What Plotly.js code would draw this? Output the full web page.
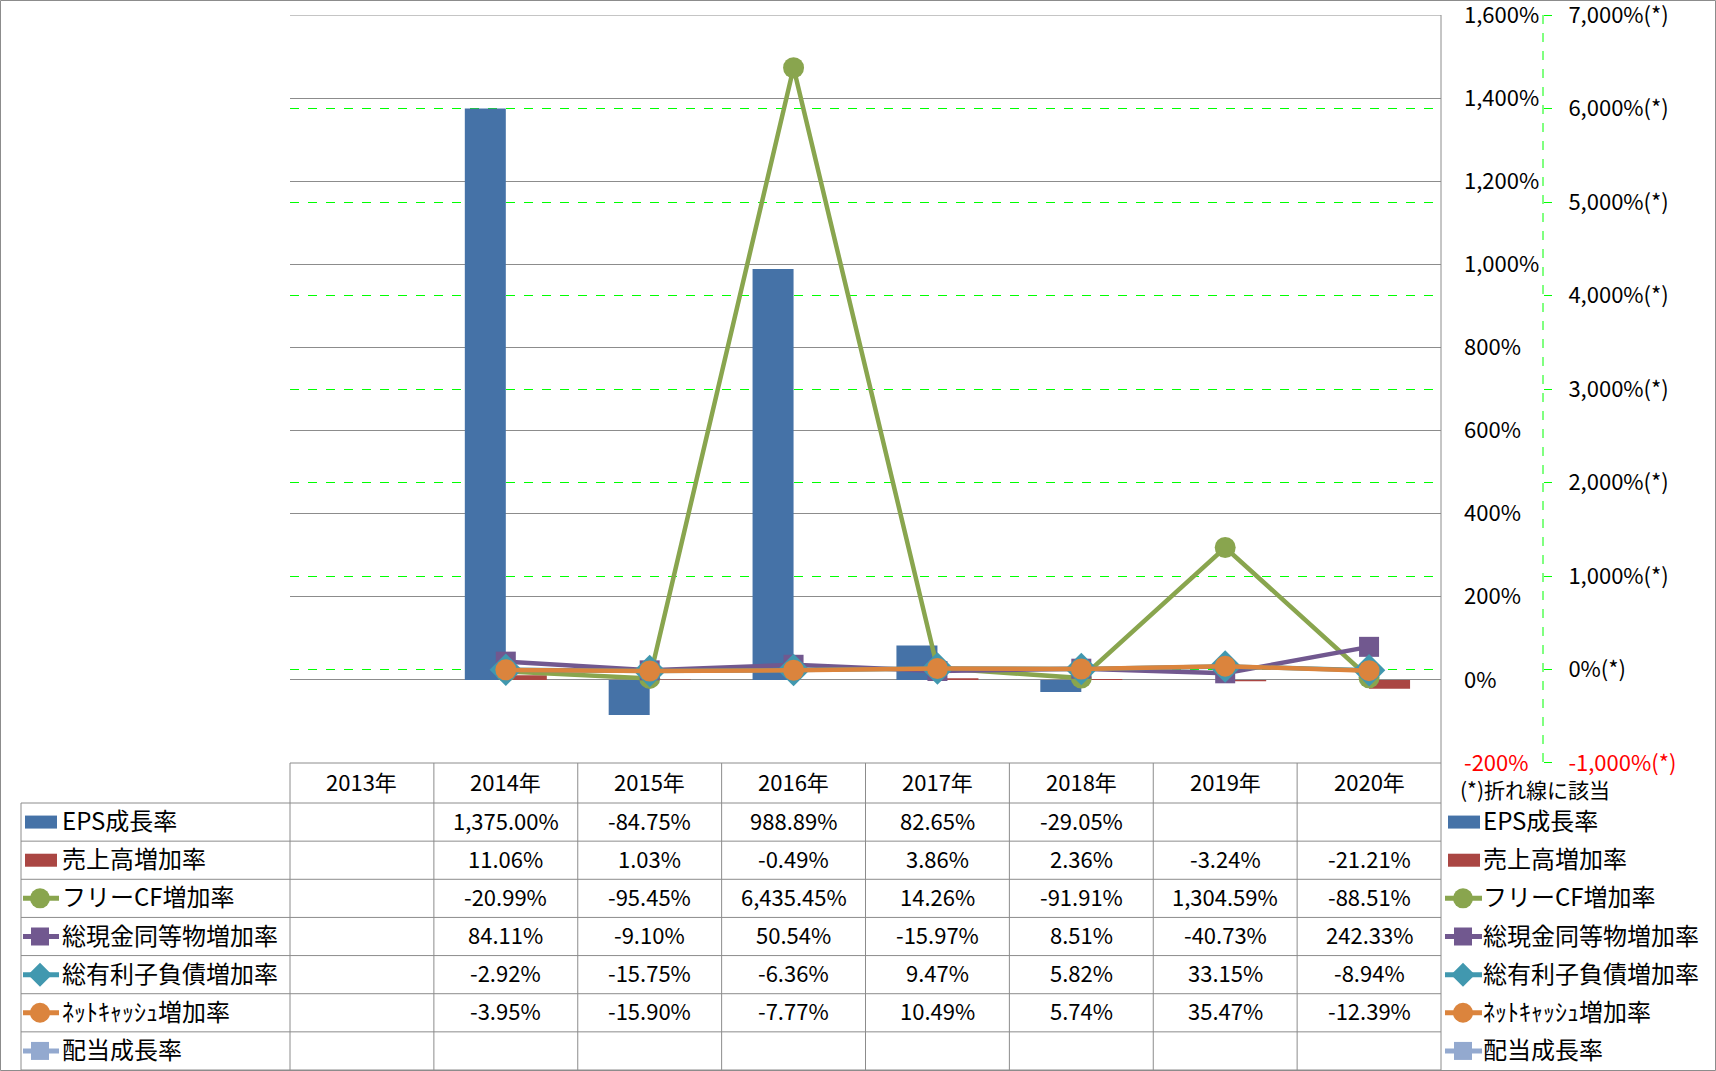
<!DOCTYPE html>
<html>
<head>
<meta charset="utf-8">
<script src="https://cdn.plot.ly/plotly-3.0.1.min.js"></script>
<style>
html,body{margin:0;padding:0;background:#fff;}
#chart{width:1716px;height:1071px;}
</style>
</head>
<body>
<div id="chart"></div>
<script>
// ---- data ----
const years = ['2013年','2014年','2015年','2016年','2017年','2018年','2019年','2020年'];
const epsGrowth      = [null, 1375.00, -84.75, 988.89, 82.65, -29.05, null, null];
const salesGrowth    = [null, 11.06, 1.03, -0.49, 3.86, 2.36, -3.24, -21.21];
const fcfGrowth      = [null, -20.99, -95.45, 6435.45, 14.26, -91.91, 1304.59, -88.51];
const cashGrowth     = [null, 84.11, -9.10, 50.54, -15.97, 8.51, -40.73, 242.33];
const debtGrowth     = [null, -2.92, -15.75, -6.36, 9.47, 5.82, 33.15, -8.94];
const netCashGrowth  = [null, -3.95, -15.90, -7.77, 10.49, 5.74, 35.47, -12.39];
const dividendGrowth = [null, null, null, null, null, null, null, null];

const seriesNames = ['EPS成長率','売上高増加率','フリーCF増加率','総現金同等物増加率','総有利子負債増加率','ﾈｯﾄｷｬｯｼｭ増加率','配当成長率'];
const leftTicks  = [-200, 0, 200, 400, 600, 800, 1000, 1200, 1400, 1600];
const rightTicks = [-1000, 0, 1000, 2000, 3000, 4000, 5000, 6000, 7000];
const noteText = '(*)折れ線に該当';

// ---- styles ----
const colors = ['#4572A7','#AA4643','#89A54E','#71588F','#4198AF','#DB843D','#93A9CF'];
const FONT = '"Noto Sans CJK JP", "Noto Sans", sans-serif';
const W = 1716, H = 1071;
const L = 290, R = 1441, T = 15, B = 763;
const AX2 = 1543;
const px = x => x / W;
const py = y => 1 - y / H;
const EPS1 = 0.02, EPS2 = 0.1;

function fmtNum(v){
  return v.toLocaleString('en-US',{minimumFractionDigits:2, maximumFractionDigits:2}) + '%';
}
function fmtTick(v, suffix){
  const s = v.toLocaleString('en-US') + suffix;
  return v < 0 ? '<span style="color:#FF0000">' + s + '</span>' : s;
}

const lineSeries = [fcfGrowth, cashGrowth, debtGrowth, netCashGrowth, dividendGrowth];
const lineSymbols = ['circle','square','diamond','circle','square'];
const lineSizes = [21, 20, 25, 21, 20];

const traces = [
  {type:'bar', x:years, y:epsGrowth, name:seriesNames[0], marker:{color:colors[0]}, yaxis:'y'},
  {type:'bar', x:years, y:salesGrowth, name:seriesNames[1], marker:{color:colors[1]}, yaxis:'y'}
];
lineSeries.forEach((d,i)=>{
  traces.push({type:'scatter', mode:'lines+markers', x:years, y:d, name:seriesNames[i+2], yaxis:'y2',
    line:{color:colors[i+2], width:4.5},
    marker:{symbol:lineSymbols[i], size:lineSizes[i], color:colors[i+2], line:{width:0}}});
});

const gray = '#8C8C8C';
const shapes = [];
const annotations = [];
function hline(y,x0,x1){shapes.push({type:'line',xref:'paper',yref:'paper',x0:px(x0),x1:px(x1),y0:py(y),y1:py(y),line:{color:gray,width:1}});}
function vline(x,y0,y1){shapes.push({type:'line',xref:'paper',yref:'paper',x0:px(x),x1:px(x),y0:py(y0),y1:py(y1),line:{color:gray,width:1}});}

// outer border
shapes.push({type:'rect',xref:'paper',yref:'paper',x0:px(0.5),x1:px(W-0.5),y0:py(0.5),y1:py(H-0.5),line:{color:gray,width:1}});
// secondary axis dashed line
shapes.push({type:'line',xref:'paper',yref:'paper',x0:px(AX2),x1:px(AX2),y0:py(T),y1:py(B),line:{color:'#00FF00',width:1,dash:'dash'}});
// top gridline of the plot area (value-axis maximum)
shapes.push({type:'line',xref:'x domain',yref:'y',x0:0,x1:1,y0:leftTicks[leftTicks.length-1],y1:leftTicks[leftTicks.length-1],line:{color:gray,width:1}});

// table
const colW = (R - L) / years.length;
const headTop = 763, headBot = 803, tableBot = 1070;
const rowH = (tableBot - headBot) / seriesNames.length;
const LEG_L = 21;
const TXT_UP = 2.5;
hline(headTop, L, R);
hline(headBot, LEG_L, R);
for(let r=1;r<=seriesNames.length;r++) hline(headBot + r*rowH, LEG_L, R);
vline(LEG_L, headBot, tableBot);
for(let c=0;c<years.length;c++) vline(L + c*colW, headTop, tableBot);
vline(R, T, tableBot);

const tf = {family:FONT, size:22, color:'#000'};
years.forEach((yv,c)=>{
  annotations.push({xref:'paper',yref:'paper',x:px(L+(c+0.5)*colW),y:py((headTop+headBot)/2 - TXT_UP),text:yv,showarrow:false,xanchor:'center',yanchor:'middle',font:tf});
});
const tableData = [epsGrowth, salesGrowth, fcfGrowth, cashGrowth, debtGrowth, netCashGrowth, dividendGrowth];
tableData.forEach((arr,r)=>{
  const cy = headBot + (r+0.5)*rowH - TXT_UP;
  arr.forEach((v,c)=>{
    if(v===null) return;
    annotations.push({xref:'paper',yref:'paper',x:px(L+(c+0.5)*colW),y:py(cy),text:fmtNum(v),showarrow:false,xanchor:'center',yanchor:'middle',font:tf});
  });
});

// legend (left and right)
const lf = {family:FONT, size:24, color:'#000'};
function legendSymbol(i, cx, rectX0, rectX1, lineX0, lineX1, cy){
  if(i<2){
    shapes.push({type:'rect',xref:'paper',yref:'paper',x0:px(rectX0),x1:px(rectX1),y0:py(cy-6.5),y1:py(cy+6.5),fillcolor:colors[i],line:{width:0}});
  } else {
    shapes.push({type:'line',xref:'paper',yref:'paper',x0:px(lineX0),x1:px(lineX1),y0:py(cy),y1:py(cy),line:{color:colors[i],width:5}});
    const sym = lineSymbols[i-2];
    if(sym==='circle'){
      shapes.push({type:'circle',xref:'paper',yref:'paper',x0:px(cx-10),x1:px(cx+10),y0:py(cy-10),y1:py(cy+10),fillcolor:colors[i],line:{width:0}});
    } else if(sym==='square'){
      shapes.push({type:'rect',xref:'paper',yref:'paper',x0:px(cx-9),x1:px(cx+9),y0:py(cy-9),y1:py(cy+9),fillcolor:colors[i],line:{width:0}});
    } else {
      const pts = [[cx,cy-12],[cx+12,cy],[cx,cy+12],[cx-12,cy]];
      const path = 'M'+pts.map(p=>px(p[0])+','+py(p[1])).join('L')+'Z';
      shapes.push({type:'path',xref:'paper',yref:'paper',path:path,fillcolor:colors[i],line:{width:0}});
    }
  }
}
seriesNames.forEach((nm,i)=>{
  const cy = headBot + (i+0.5)*rowH;
  legendSymbol(i, 40, 25, 57, 23, 59, cy);
  annotations.push({xref:'paper',yref:'paper',x:px(60),y:py(cy - TXT_UP),text:nm,showarrow:false,xanchor:'left',yanchor:'middle',font:lf});
  legendSymbol(i, 1463, 1448, 1480, 1445, 1482, cy);
  annotations.push({xref:'paper',yref:'paper',x:px(1481),y:py(cy - TXT_UP),text:nm,showarrow:false,xanchor:'left',yanchor:'middle',font:lf});
});
annotations.push({xref:'paper',yref:'paper',x:px(1458),y:py(789),text:noteText,showarrow:false,xanchor:'left',yanchor:'middle',font:{family:FONT,size:21,color:'#000'}});

const layout = {
  width: W, height: H,
  margin:{l:0,r:0,t:0,b:0,pad:0},
  paper_bgcolor:'#fff', plot_bgcolor:'rgba(0,0,0,0)',
  font:{family:FONT, size:22, color:'#000'},
  showlegend:false,
  barmode:'group', bargap:0.43, bargroupgap:0,
  xaxis:{domain:[px(L), px(R)], type:'category', range:[-0.5, 7.5], showticklabels:false, showgrid:false, zeroline:false, showline:false, ticks:''},
  yaxis:{domain:[py(B), py(T)], side:'right', anchor:'x', range:[-200-EPS1,1600+EPS1], tickvals:leftTicks, ticktext:leftTicks.map(v=>fmtTick(v,'%')),
    showgrid:true, gridcolor:gray, gridwidth:1, zeroline:false, showline:false, ticks:'', ticklabelstandoff:22, ticklabeloverflow:'allow',
    tickfont:{family:FONT,size:22,color:'#000'}},
  yaxis2:{overlaying:'y', side:'right', anchor:'free', position:px(AX2), range:[-1000-EPS2,7000+EPS2], tickvals:rightTicks, ticktext:rightTicks.map(v=>fmtTick(v,'%(*)')),
    showgrid:true, gridcolor:'#00FF00', gridwidth:1, griddash:'dash', zeroline:false, showline:false,
    ticks:'outside', ticklen:8, tickcolor:'#00FF00', tickwidth:1, ticklabelstandoff:12, ticklabeloverflow:'allow',
    tickfont:{family:FONT,size:22,color:'#000'}},
  shapes: shapes,
  annotations: annotations
};

Plotly.newPlot('chart', traces, layout, {staticPlot:true, displayModeBar:false});
</script>
</body>
</html>
